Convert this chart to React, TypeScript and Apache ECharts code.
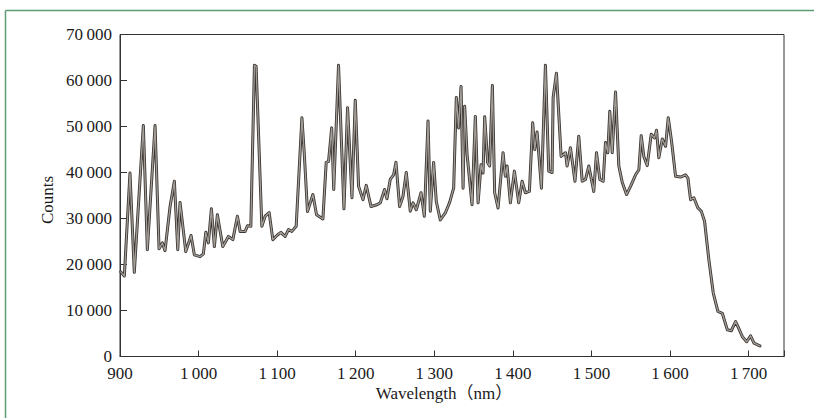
import React, { useEffect, useRef } from "react";
import * as echarts from "echarts";

const wavelengths: number[] = [
  901, 905.5, 912.7, 918.2, 929.7, 934.8, 944.6, 949.7, 953.9, 957.3,
  963.7, 969.2, 973.5, 976.4, 983.7, 990.4, 994.6, 1001.9, 1006.1, 1009.2,
  1012.5, 1016.3, 1020.1, 1023.9, 1030.8, 1038, 1043.6, 1049.4, 1052.9, 1059.2,
  1062.2, 1066.5, 1071.1, 1073.2, 1080.5, 1084.7, 1089.8, 1094.5, 1099.6, 1104.7,
  1110.2, 1114.4, 1118.7, 1124.2, 1131.5, 1134.4, 1138.6, 1145.5, 1150.1, 1158.2,
  1162.4, 1165.4, 1169.4, 1172, 1178.1, 1185, 1189.6, 1195.2, 1199.4, 1203.6,
  1209.2, 1213.4, 1219.4, 1227, 1231.2, 1236.7, 1239.7, 1243.9, 1248.2, 1251.2,
  1255.8, 1260.1, 1264.3, 1269.4, 1272.9, 1277.1, 1283.1, 1287.3, 1292, 1294.9,
  1299.1, 1302.5, 1307.6, 1314, 1319.5, 1324.6, 1328, 1330.9, 1334, 1336.6,
  1338.6, 1341.7, 1348, 1352.2, 1355.7, 1359.5, 1362, 1364.1, 1367.9, 1370.4,
  1373.9, 1376.8, 1381.1, 1387.5, 1390.4, 1392.6, 1396.8, 1401.9, 1407.4, 1411.7,
  1415.9, 1421, 1425.2, 1427.8, 1430.8, 1436.3, 1441.4, 1445.6, 1449.9, 1451.2,
  1455.4, 1461.4, 1466.9, 1469, 1473.2, 1479, 1483.8, 1488.2, 1492.4, 1496.6,
  1502.9, 1506.4, 1510.6, 1514.9, 1517.8, 1520.8, 1523.3, 1526.4, 1530.6, 1534.8,
  1539.1, 1544.6, 1549.7, 1556.1, 1560.3, 1563.3, 1566.6, 1570.9, 1576, 1580.3,
  1582.8, 1585.7, 1590.1, 1594.3, 1597.7, 1601.9, 1607, 1613.4, 1619.7, 1622.7,
  1626.1, 1630.3, 1635.4, 1639.7, 1643.9, 1649.4, 1655, 1660.9, 1666.5, 1672.9,
  1677.9, 1683.4, 1686.4, 1692, 1697.5, 1702.5, 1706.8, 1714.4,
];

const counts: number[] = [
  18400, 17500, 39900, 18300, 50200, 23200, 50200, 23400, 24700, 23000,
  32600, 38100, 23200, 33500, 22800, 26300, 22100, 21700, 22300, 27000,
  24700, 32100, 23900, 30800, 23900, 26100, 25400, 30500, 27200, 27200,
  28400, 28300, 63300, 63100, 28300, 30500, 31300, 25400, 26300, 27000,
  26100, 27600, 27200, 28300, 51900, 44400, 31500, 35200, 30800, 29900,
  42200, 42400, 49700, 36300, 63300, 32100, 54100, 34500, 55700, 37000,
  34100, 37200, 32600, 33000, 33400, 36300, 34300, 38500, 39500, 42200,
  32600, 34800, 40000, 31600, 33400, 31900, 35600, 30500, 51200, 31600,
  42200, 33700, 29700, 31200, 33500, 36600, 56300, 49700, 58700, 36600,
  54400, 43900, 33000, 52200, 33400, 41700, 39900, 52100, 42100, 41400,
  58900, 35600, 32300, 44300, 39200, 41400, 33400, 40300, 33400, 38100,
  35600, 35900, 50800, 45000, 48800, 36600, 63300, 40300, 40000, 56300,
  61600, 43500, 44300, 41400, 45400, 38100, 47900, 38100, 38500, 41400,
  35900, 44300, 38500, 38100, 46500, 44300, 53300, 44300, 57500, 41400,
  37900, 35200, 37000, 39500, 40600, 48000, 43500, 41500, 48300, 47500,
  49200, 43200, 47300, 45700, 51900, 46800, 39200, 39000, 39500, 38800,
  34100, 34500, 32300, 31600, 29400, 21000, 13800, 9800, 9400, 5800,
  5600, 7600, 6500, 4300, 3200, 4500, 2900, 2300,
];

const xTicks = { min: 900, max: 1745, step: 100 };
const yTicks = { min: 0, max: 70000, step: 10000 };

const fmt = (v: number): string => {
  const s = String(Math.round(v));
  if (s.length <= 3) return s;
  return s.slice(0, s.length - 3) + "\u2009" + s.slice(s.length - 3);
};

const FONT = "'Liberation Serif', 'Noto Sans CJK JP', serif";

export default function App() {
  const ref = useRef<HTMLDivElement>(null);
  useEffect(() => {
    if (!ref.current) return;
    const chart = echarts.init(ref.current, null, { renderer: "svg" });
    const pts = wavelengths.map((w, i) => [w, counts[i]]);
    chart.setOption({
      animation: false,
      backgroundColor: "#ffffff",
      grid: {
        left: 120,
        right: 30,
        top: 34.5,
        bottom: 61.5,
        show: true,
        borderColor: "#333333",
        borderWidth: 1,
        backgroundColor: "transparent",
      },
      xAxis: {
        type: "value",
        min: xTicks.min,
        max: xTicks.max,
        interval: xTicks.step,
        axisLine: { lineStyle: { color: "#333333", width: 1 } },
        axisTick: { inside: true, length: 6, lineStyle: { color: "#333333" } },
        splitLine: { show: false },
        axisLabel: {
          color: "#1a1a1a",
          fontFamily: FONT,
          fontSize: 17,
          margin: 8,
          formatter: (v: number) => (v % 100 === 0 ? fmt(v) : ""),
        },
      },
      yAxis: {
        type: "value",
        min: yTicks.min,
        max: yTicks.max,
        interval: yTicks.step,
        axisLine: { show: true, lineStyle: { color: "#333333", width: 1 } },
        axisTick: { show: true, inside: true, length: 7, lineStyle: { color: "#333333" } },
        splitLine: { show: false },
        axisLabel: {
          color: "#1a1a1a",
          fontFamily: FONT,
          fontSize: 17,
          margin: 8,
          formatter: (v: number) => fmt(v),
        },
      },
      graphic: [
        {
          type: "line",
          shape: { x1: 5.5, y1: 10.5, x2: 814, y2: 10.5 },
          style: { stroke: "#5e9d74", lineWidth: 1.5 },
        },
        {
          type: "line",
          shape: { x1: 5.5, y1: 10.5, x2: 5.5, y2: 418 },
          style: { stroke: "#5e9d74", lineWidth: 1.5 },
        },
        {
          type: "text",
          x: 47,
          y: 200,
          rotation: Math.PI / 2,
          style: {
            text: "Counts",
            font: `17px ${FONT}`,
            fill: "#1a1a1a",
            align: "center",
            verticalAlign: "middle",
          },
        },
        {
          type: "text",
          x: 444,
          y: 393,
          style: {
            text: "Wavelength\uFF08nm\uFF09",
            font: `17px ${FONT}`,
            fill: "#1a1a1a",
            align: "center",
            verticalAlign: "middle",
          },
        },
      ],
      series: [
        {
          type: "line",
          data: pts,
          showSymbol: false,
          silent: true,
          lineStyle: { color: "#3a3532", width: 3, join: "round", cap: "round" },
          z: 2,
        },
        {
          type: "line",
          data: pts,
          showSymbol: false,
          silent: true,
          lineStyle: { color: "#a39d97", width: 1.3, join: "round", cap: "round" },
          z: 3,
        },
      ],
    });
    return () => chart.dispose();
  }, []);
  return (
    <div
      ref={ref}
      style={{ position: "absolute", left: 0, top: 0, width: 814, height: 418 }}
    />
  );
}
